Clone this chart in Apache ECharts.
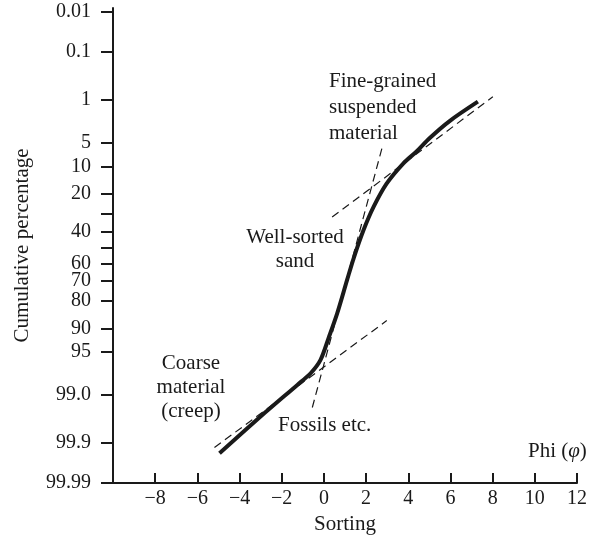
<!DOCTYPE html>
<html>
<head>
<meta charset="utf-8">
<script src="https://cdn.jsdelivr.net/npm/echarts@6/dist/echarts.min.js"></script>
<style>
  html, body { margin: 0; padding: 0; background: #fff; }
  #chart { width: 590px; height: 544px; }
</style>
</head>
<body>
<div id="chart"></div>
<script>
// cumulative curve (phi, cumulative %)
var curvePhi = [-4.95, -2.83, -1.26, -0.63, -0.16, 0.24, 0.63, 1.10, 1.41, 1.88, 2.36, 2.98, 3.77, 4.39, 5.02, 5.96, 7.30];
var curvePct = [99.942, 99.56, 98.5, 97.65, 96.2, 92.1, 85.1, 69.6, 56.8, 39.2, 26.0, 15.6, 9.2, 6.5, 4.2, 2.3, 1.07];

// dashed straight segments (two end points each)
var coarsePhi = [-5.19, 2.98];
var coarsePct = [99.921, 87.6];
var sortedPhi = [-0.55, 2.75];
var sortedPct = [99.425, 5.9];
var finePhi = [0.39, 8.01];
var finePct = [31.6, 0.87];

// y axis ticks (cumulative %)
var pctTicks = [0.01, 0.1, 1, 5, 10, 20, 30, 40, 50, 60, 70, 80, 90, 95, 99, 99.9, 99.99];
var pctLabels = ['0.01', '0.1', '1', '5', '10', '20', '', '40', '', '60', '70', '80', '90', '95', '99.0', '99.9', '99.99'];

// probability scale: inverse normal (Acklam)
function probit(p) {
  var a = [-3.969683028665376e+01, 2.209460984245205e+02, -2.759285104469687e+02, 1.383577518672690e+02, -3.066479806614716e+01, 2.506628277459239e+00];
  var b = [-5.447609879822406e+01, 1.615858368580409e+02, -1.556989798598866e+02, 6.680131188771972e+01, -1.328068155288572e+01];
  var c = [-7.784894002430293e-03, -3.223964580411365e-01, -2.400758277161838e+00, -2.549732539343734e+00, 4.374664141464968e+00, 2.938163982698783e+00];
  var d = [7.784695709041462e-03, 3.224671290700398e-01, 2.445134137142996e+00, 3.754408661907416e+00];
  var pl = 0.02425, q, r;
  if (p < pl) {
    q = Math.sqrt(-2 * Math.log(p));
    return (((((c[0] * q + c[1]) * q + c[2]) * q + c[3]) * q + c[4]) * q + c[5]) / ((((d[0] * q + d[1]) * q + d[2]) * q + d[3]) * q + 1);
  }
  if (p <= 1 - pl) {
    q = p - 0.5; r = q * q;
    return (((((a[0] * r + a[1]) * r + a[2]) * r + a[3]) * r + a[4]) * r + a[5]) * q / (((((b[0] * r + b[1]) * r + b[2]) * r + b[3]) * r + b[4]) * r + 1);
  }
  q = Math.sqrt(-2 * Math.log(1 - p));
  return -(((((c[0] * q + c[1]) * q + c[2]) * q + c[3]) * q + c[4]) * q + c[5]) / ((((d[0] * q + d[1]) * q + d[2]) * q + d[3]) * q + 1);
}
function z(pct) { return probit(pct / 100); }
function pairs(xs, ps) {
  return xs.map(function (x, i) { return [x, z(ps[i])]; });
}
var zTicks = pctTicks.map(z);

var font = 'Liberation Serif';
var ink = '#1a1a1a';

var chart = echarts.init(document.getElementById('chart'));
var dashed = { color: ink, width: 1.2, type: [8, 5] };

chart.setOption({
  animation: false,
  backgroundColor: '#fff',
  grid: { left: 113, right: 9, top: 8, bottom: 61 },
  xAxis: {
    type: 'value',
    min: -10, max: 12, interval: 2,
    name: 'Sorting',
    nameLocation: 'middle',
    nameGap: 28,
    nameTextStyle: { fontFamily: font, fontSize: 21, color: ink },
    axisLine: { onZero: false, lineStyle: { color: ink, width: 2 } },
    axisTick: { inside: true, length: 10, lineStyle: { color: ink, width: 2 } },
    axisLabel: {
      fontFamily: font, fontSize: 20, color: ink, margin: 6,
      formatter: function (v) { return v === -10 ? '' : String(v).replace('-', '\u2212'); }
    },
    splitLine: { show: false }
  },
  yAxis: {
    type: 'value',
    inverse: true,
    min: -3.78,
    max: z(99.99),
    name: 'Cumulative percentage',
    nameLocation: 'middle',
    nameGap: 80,
    nameTextStyle: { fontFamily: font, fontSize: 21, color: ink },
    axisLine: { onZero: false, lineStyle: { color: ink, width: 2 } },
    axisTick: { customValues: zTicks, length: 12, lineStyle: { color: ink, width: 2 } },
    axisLabel: {
      customValues: zTicks,
      fontFamily: font, fontSize: 20, color: ink, margin: 22,
      formatter: function (v) {
        for (var i = 0; i < zTicks.length; i++) {
          if (Math.abs(zTicks[i] - v) < 1e-6) return pctLabels[i];
        }
        return '';
      }
    },
    splitLine: { show: false }
  },
  series: [
    { type: 'line', data: pairs(coarsePhi, coarsePct), showSymbol: false, lineStyle: dashed },
    { type: 'line', data: pairs(sortedPhi, sortedPct), showSymbol: false, lineStyle: dashed },
    { type: 'line', data: pairs(finePhi, finePct), showSymbol: false, lineStyle: dashed },
    {
      type: 'line', data: pairs(curvePhi, curvePct), showSymbol: false, smooth: 0.3,
      lineStyle: { color: ink, width: 4, cap: 'butt' }
    }
  ],
  graphic: [
    { type: 'text', x: 329, y: 107, style: { text: 'Fine-grained\nsuspended\nmaterial', font: '21px "Liberation Serif"', fill: ink, align: 'left', verticalAlign: 'middle', lineHeight: 26 } },
    { type: 'text', x: 295, y: 249, style: { text: 'Well-sorted\nsand', font: '21px "Liberation Serif"', fill: ink, align: 'center', verticalAlign: 'middle', lineHeight: 24 } },
    { type: 'text', x: 191, y: 387, style: { text: 'Coarse\nmaterial\n(creep)', font: '21px "Liberation Serif"', fill: ink, align: 'center', verticalAlign: 'middle', lineHeight: 24 } },
    { type: 'text', x: 278, y: 425, style: { text: 'Fossils etc.', font: '21px "Liberation Serif"', fill: ink, align: 'left', verticalAlign: 'middle' } },
    { type: 'text', x: 528, y: 451, style: { text: 'Phi ({i|\u03c6})', font: '21px "Liberation Serif"', fill: ink, align: 'left', verticalAlign: 'middle',
      rich: { i: { fontStyle: 'italic', fontFamily: font, fontSize: 21, fill: ink } } } }
  ]
});
</script>
</body>
</html>
